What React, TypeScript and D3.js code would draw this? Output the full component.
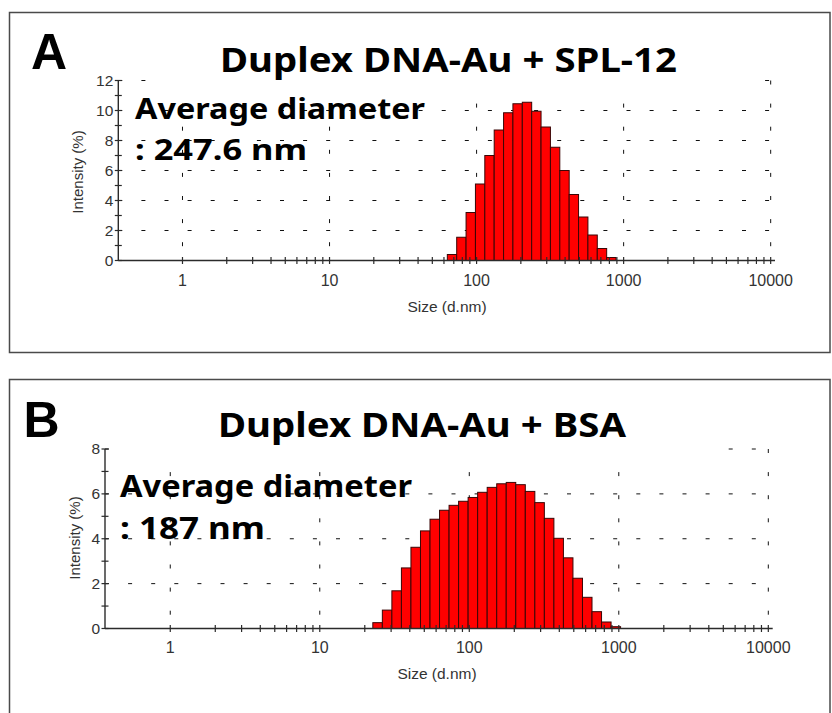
import React from 'react';
import * as d3 from 'd3';

// Size classes (d.nm) of the occupied bins, panel A: Duplex DNA-Au + SPL-12
const splSizes = [68.06, 78.82, 91.28, 105.7, 122.4, 141.8, 164.2, 190.1, 220.2, 255, 295.3, 342, 396.1, 458.7, 531.2, 615.1, 712.4, 825];
const splIntensity = [0.4, 1.55, 3.2, 5.1, 7.0, 8.7, 9.85, 10.45, 10.55, 9.95, 8.9, 7.55, 6.0, 4.4, 2.9, 1.7, 0.8, 0.2];

// Size classes (d.nm) of the occupied bins, panel B: Duplex DNA-Au + BSA
const bsaSizes = [24.36, 28.21, 32.67, 37.84, 43.82, 50.75, 58.77, 68.06, 78.82, 91.28, 105.7, 122.4, 141.8, 164.2, 190.1, 220.2, 255, 295.3, 342, 396.1, 458.7, 531.2, 615.1, 712.4, 825, 955.4];
const bsaIntensity = [0.26, 0.82, 1.68, 2.7, 3.62, 4.35, 4.87, 5.27, 5.49, 5.67, 5.84, 6.07, 6.29, 6.45, 6.51, 6.41, 6.11, 5.61, 4.91, 4.02, 3.15, 2.24, 1.39, 0.75, 0.29, 0.08];

// Axis content
const xMajorTicks = [1, 10, 100, 1000, 10000];
const xTickLabels = ['1', '10', '100', '1000', '10000'];
const xDomain: [number, number] = [0.366, 10700];
const panelTitles = ['Duplex DNA-Au + SPL-12', 'Duplex DNA-Au + BSA'];
const panelLetters = ['A', 'B'];
const noteLinesA = ['Average diameter', ': 247.6 nm'];
const noteLinesB = ['Average diameter', ': 187 nm'];
const xAxisTitle = 'Size (d.nm)';
const yAxisTitle = 'Intensity (%)';

type PanelProps = {
  frame: { x: number; y: number; w: number; h: number };
  letter: string;
  letterX: number;
  letterY: number;
  title: string;
  titleX0: number;
  titleX1: number;
  titleY: number;
  titleFontSize: number;
  maskRect: { x: number; y: number; w: number; h: number };
  notes: string[];
  noteX: number;
  noteWidths: number[];
  noteYs: number[];
  noteFontSize: number;
  plot: { left: number; right: number; bottom: number; top: number };
  yMax: number;
  sizes: number[];
  values: number[];
  xLabelDy: number;
  xTitle: { x: number; y: number };
  yTitle: { x: number; y: number };
};

const DASH = '4 19.1';
const AXIS = '#2b2b2b';
const LABEL = '#333';

function Panel(p: PanelProps) {
  const x = d3.scaleLog().domain(xDomain).range([p.plot.left, p.plot.right]);
  const y = d3.scaleLinear().domain([0, p.yMax]).range([p.plot.bottom, p.plot.top]);
  const x10k = x(10000);

  const minorX: number[] = [];
  for (let k = 0; k < 4; k++) {
    for (let d = 1; d <= 9; d++) minorX.push(d * Math.pow(10, k));
  }
  minorX.push(10000);

  const yAll = d3.range(0, p.yMax + 1, 1);
  const yMajor = d3.range(0, p.yMax + 1, 2);
  const ratio = p.sizes[1] / p.sizes[0];
  const half = Math.sqrt(ratio);

  return (
    <g>
      <rect x={p.frame.x} y={p.frame.y} width={p.frame.w} height={p.frame.h} fill="#fff" stroke="#4a4a4a" strokeWidth={1.5} />

      {/* dashed grid */}
      {yMajor.filter((v) => v > 0).map((v) => (
        <line key={'gy' + v} x1={p.plot.left} x2={x10k} y1={y(v)} y2={y(v)} stroke="#111" strokeWidth={1} strokeDasharray={DASH} />
      ))}
      {xMajorTicks.map((v) => (
        <line key={'gx' + v} x1={x(v)} x2={x(v)} y1={y(p.yMax)} y2={p.plot.bottom} stroke="#111" strokeWidth={1} strokeDasharray={DASH} />
      ))}

      {/* histogram bars */}
      {p.sizes.map((s, i) => (
        <rect
          key={'b' + i}
          x={x(s / half)}
          y={y(p.values[i])}
          width={x(s * half) - x(s / half)}
          height={p.plot.bottom - y(p.values[i])}
          fill="#ff0000"
          stroke="#3a0606"
          strokeWidth={1}
        />
      ))}

      {/* axes */}
      <line x1={p.plot.left} x2={p.plot.right} y1={p.plot.bottom} y2={p.plot.bottom} stroke={AXIS} strokeWidth={1.4} />
      <line x1={p.plot.left} x2={p.plot.left} y1={p.plot.bottom} y2={y(p.yMax)} stroke={AXIS} strokeWidth={1.4} />
      {minorX.map((v, i) => (
        <line key={'tx' + i} x1={x(v)} x2={x(v)} y1={p.plot.bottom - 3.5} y2={p.plot.bottom + 3.5} stroke={AXIS} strokeWidth={1.2} />
      ))}
      {yAll.map((v) => (
        <line key={'ty' + v} x1={p.plot.left - 3.5} x2={p.plot.left + 3.5} y1={y(v)} y2={y(v)} stroke={AXIS} strokeWidth={1.2} />
      ))}
      {xMajorTicks.map((v, i) => (
        <text key={'lx' + v} x={x(v)} y={p.plot.bottom + p.xLabelDy} textAnchor="middle" fontSize={16} fill={LABEL}>
          {xTickLabels[i]}
        </text>
      ))}
      {yMajor.map((v) => (
        <text key={'ly' + v} x={p.plot.left - 5} y={y(v)} dy="0.35em" textAnchor="end" fontSize={15.5} fill={LABEL}>
          {v}
        </text>
      ))}
      <text x={p.xTitle.x} y={p.xTitle.y} textAnchor="middle" fontSize={15.5} fill={LABEL}>
        {xAxisTitle}
      </text>
      <text
        transform={`translate(${p.yTitle.x},${p.yTitle.y}) rotate(-90)`}
        textAnchor="middle"
        dy="0.35em"
        fontSize={15}
        fill={LABEL}
      >
        {yAxisTitle}
      </text>

      {/* title box */}
      <rect x={p.maskRect.x} y={p.maskRect.y} width={p.maskRect.w} height={p.maskRect.h} fill="#fff" />
      <text
        x={p.titleX0}
        y={p.titleY}
        fontFamily="'Noto Sans', sans-serif"
        fontWeight={700}
        fontSize={p.titleFontSize}
        textLength={p.titleX1 - p.titleX0}
        lengthAdjust="spacingAndGlyphs"
        fill="#000"
      >
        {p.title}
      </text>
      <text x={p.letterX} y={p.letterY} fontFamily="'Liberation Sans', Arial, sans-serif" fontWeight={700} fontSize={50} fill="#000">
        {p.letter}
      </text>

      {/* annotation */}
      {p.notes.map((t, i) => (
        <text
          key={'n' + i}
          x={p.noteX}
          y={p.noteYs[i]}
          fontFamily="'Noto Sans', sans-serif"
          fontWeight={700}
          fontSize={p.noteFontSize}
          textLength={p.noteWidths[i]}
          lengthAdjust="spacingAndGlyphs"
          fill="#000"
        >
          {t}
        </text>
      ))}
    </g>
  );
}

export default function App() {
  return (
    <svg
      width={832}
      height={713}
      style={{ position: 'absolute', left: 0, top: 0, display: 'block' }}
      fontFamily="'Liberation Sans', Arial, sans-serif"
    >
      <rect width={832} height={713} fill="#fff" />
      <Panel
        frame={{ x: 9.5, y: 12.5, w: 820.5, h: 340 }}
        letter={panelLetters[0]}
        letterX={31}
        letterY={68.5}
        title={panelTitles[0]}
        titleX0={220}
        titleX1={677}
        titleY={72}
        titleFontSize={34}
        maskRect={{ x: 150, y: 30, w: 608, h: 62 }}
        notes={noteLinesA}
        noteX={135}
        noteWidths={[290, 172]}
        noteYs={[119, 160]}
        noteFontSize={29}
        plot={{ left: 118.3, right: 775, bottom: 260.5, top: 80.5 }}
        yMax={12}
        sizes={splSizes}
        values={splIntensity}
        xLabelDy={25.5}
        xTitle={{ x: 447, y: 312 }}
        yTitle={{ x: 77.5, y: 172 }}
      />
      <Panel
        frame={{ x: 9.5, y: 379.5, w: 820.5, h: 400 }}
        letter={panelLetters[1]}
        letterX={23.5}
        letterY={437}
        title={panelTitles[1]}
        titleX0={218}
        titleX1={626}
        titleY={437}
        titleFontSize={34}
        maskRect={{ x: 110, y: 390, w: 612, h: 68 }}
        notes={noteLinesB}
        noteX={120}
        noteWidths={[292, 145]}
        noteYs={[497, 538.5]}
        noteFontSize={30}
        plot={{ left: 105, right: 772.7, bottom: 628.5, top: 449 }}
        yMax={8}
        sizes={bsaSizes}
        values={bsaIntensity}
        xLabelDy={24}
        xTitle={{ x: 437, y: 679 }}
        yTitle={{ x: 75, y: 538 }}
      />
    </svg>
  );
}
